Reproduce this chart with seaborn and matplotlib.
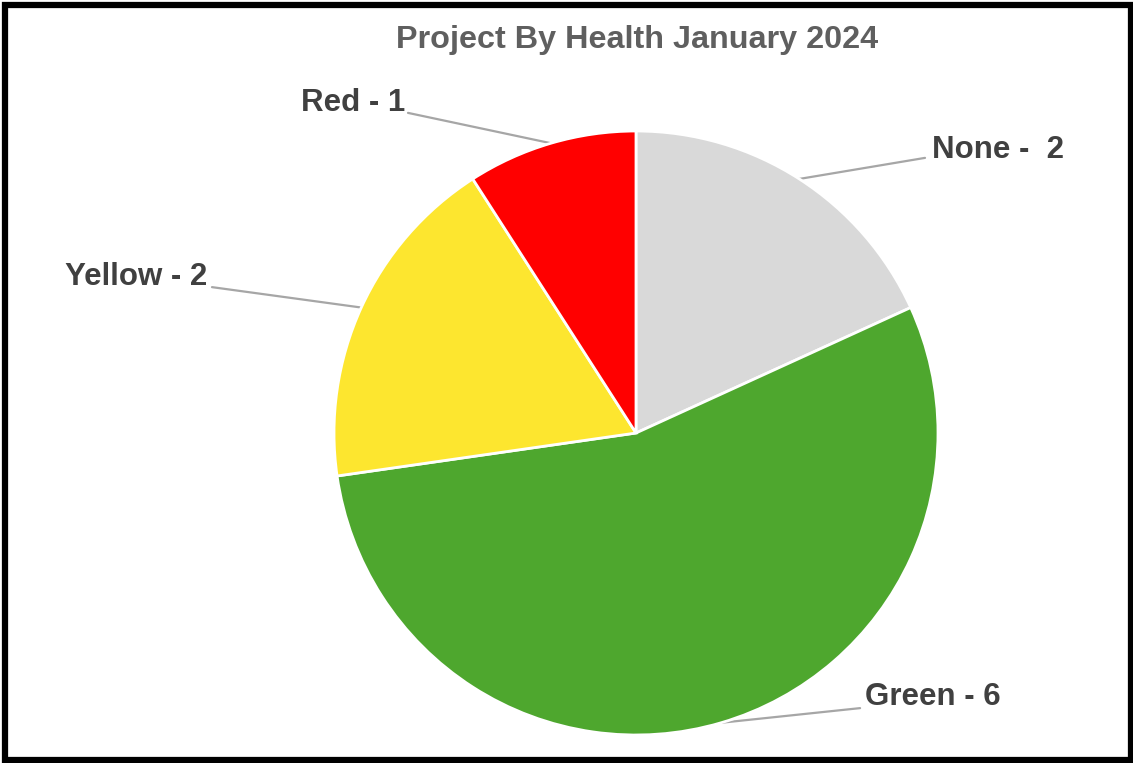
import matplotlib
matplotlib.use("Agg")
import matplotlib.pyplot as plt
import seaborn as sns
import numpy as np
from matplotlib.patches import Rectangle

# === DATA ===
categories = ["None", "Green", "Yellow", "Red"]
counts = [2, 6, 2, 1]
label_texts = ["None -  2", "Green - 6", "Yellow - 2", "Red - 1"]
slice_colors = ["#d9d9d9", "#4ea72e", "#fde62f", "#ff0000"]

# label anchor (text position, alignment) and leader line start, in pie units
label_pos = [(0.980, 0.937), (0.758, -0.874), (-1.421, 0.517), (-0.765, 1.093)]
label_ha = ["left", "left", "right", "right"]
line_start = [(0.957, 0.911), (0.742, -0.911), (-1.404, 0.483), (-0.755, 1.060)]

# === STYLE ===
sns.set_theme(style="white")
plt.rcParams["font.family"] = ["Liberation Sans", "DejaVu Sans"]

fig = plt.figure(figsize=(11.33, 7.63), dpi=100)
ax = fig.add_axes([0, 0, 1, 1])

wedges, _ = ax.pie(
    counts,
    colors=slice_colors,
    startangle=90,
    counterclock=False,
    radius=1.0,
    wedgeprops=dict(edgecolor="white", linewidth=2),
)

# === LABELS WITH LEADER LINES ===
for w, txt, pos, ha, start in zip(wedges, label_texts, label_pos, label_ha, line_start):
    ang = np.deg2rad((w.theta1 + w.theta2) / 2)
    edge = (np.cos(ang), np.sin(ang))
    ax.plot([start[0], edge[0]], [start[1], edge[1]], color="#a6a6a6", lw=1.6,
            solid_capstyle="round", zorder=0)
    ax.text(pos[0], pos[1], txt, ha=ha, va="center", fontsize=22.5,
            fontweight="bold", color="#404040")

ax.set_xlim(-636 / 302, (1133 - 636) / 302)
ax.set_ylim(-(763 - 433) / 302, 433 / 302)
ax.set_aspect("auto")
ax.axis("off")

# === TITLE ===
fig.text(637 / 1133, 1 - 40 / 763, "Project By Health January 2024", ha="center",
         va="center", fontsize=23.3, fontweight="bold", color="#5f5f5f")

# === BORDER ===
fig.patches.append(Rectangle((5 / 1133, 3 / 763), 1126 / 1133, 755 / 763,
                             transform=fig.transFigure, fill=False,
                             edgecolor="black", linewidth=4.5))

fig.savefig("out.png", dpi=100, facecolor="white")
